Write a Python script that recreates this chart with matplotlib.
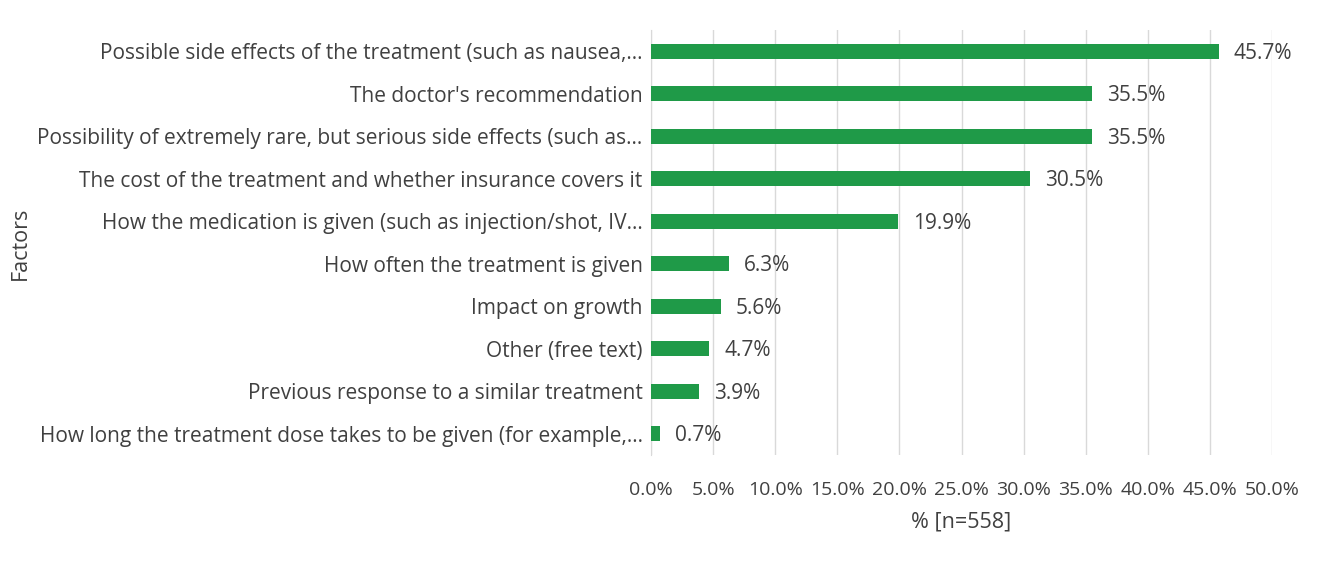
import matplotlib
matplotlib.use("Agg")
from matplotlib import pyplot as plt

factors = [
    "Possible side effects of the treatment (such as nausea,...",
    "The doctor's recommendation",
    "Possibility of extremely rare, but serious side effects (such as...",
    "The cost of the treatment and whether insurance covers it",
    "How the medication is given (such as injection/shot, IV...",
    "How often the treatment is given",
    "Impact on growth",
    "Other (free text)",
    "Previous response to a similar treatment",
    "How long the treatment dose takes to be given (for example,...",
]
percent = [45.7, 35.5, 35.5, 30.5, 19.9, 6.3, 5.6, 4.7, 3.9, 0.7]
ticks = [0, 5, 10, 15, 20, 25, 30, 35, 40, 45, 50]

plt.rcParams['font.family'] = ['Open Sans', 'DejaVu Sans']

fig = plt.figure(figsize=(13.25, 5.64), dpi=100)
ax = fig.add_axes([651 / 1325, 1 - 455 / 564, 621 / 1325, 425 / 564])

ypos = list(range(len(factors)))
ax.barh(ypos, percent, height=0.35, color='#1f9a48', zorder=3)
for y, v in zip(ypos, percent):
    ax.text(v + 1.2, y + 0.05, "%.1f%%" % v, va='center', ha='left', fontsize=15, color='#404040')

ax.set_yticks(ypos)
ax.set_yticklabels(factors, fontsize=15, color='#404040')
ax.set_ylim(len(factors) - 0.5, -0.5)
ax.set_xlim(0, 50)
ax.set_xticks(ticks)
ax.set_xticklabels(["%.1f%%" % t for t in ticks], fontsize=14, color='#404040')
ax.tick_params(axis='both', length=0)
ax.tick_params(axis='y', pad=6)
ax.tick_params(axis='x', pad=19)
ax.grid(axis='x', color='#d9d9d9', linewidth=1, zorder=0)
for s in ['top', 'right', 'bottom']:
    ax.spines[s].set_visible(False)
ax.spines['left'].set_color('#d9d9d9')

ax.set_xlabel('% [n=558]', fontsize=15.5, color='#404040', labelpad=9)
fig.text(20 / 1325, 1 - 243 / 564, 'Factors', rotation=90, va='center', ha='center', fontsize=15.5, color='#404040')

fig.savefig('out.png', dpi=100)
